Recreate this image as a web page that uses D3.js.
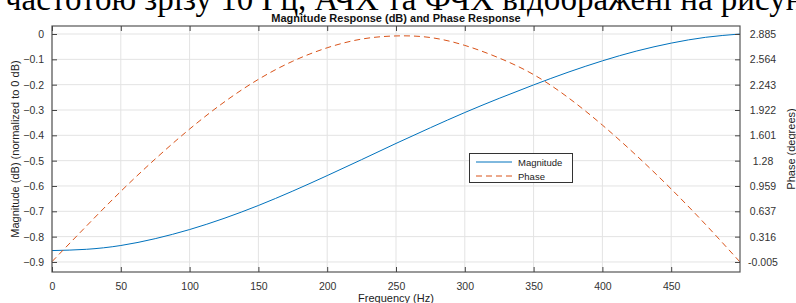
<!DOCTYPE html>
<html><head><meta charset="utf-8">
<script src="https://cdn.jsdelivr.net/npm/d3@7"></script>
<style>
html,body{margin:0;padding:0;background:#fff;}
svg{display:block;}
text{font-family:"Liberation Sans",Arial,sans-serif;}
</style></head>
<body>
<svg id="c" width="796" height="303"></svg>
<script>
const frequency = [0,25,50,75,100,125,150,175,200,225,250,275,300,325,350,375,400,425,450,475,500];
const magnitudeDb = [-0.855,-0.850,-0.835,-0.808,-0.772,-0.728,-0.677,-0.620,-0.559,-0.496,-0.432,-0.370,-0.310,-0.254,-0.201,-0.151,-0.106,-0.067,-0.036,-0.013,0.0];
const phaseDeg = [0.0,0.45,0.89,1.30,1.68,2.02,2.31,2.54,2.71,2.82,2.86,2.84,2.74,2.58,2.37,2.08,1.73,1.34,0.92,0.47,-0.005];
const xTicks = [0,50,100,150,200,250,300,350,400,450];
const leftTicks = [0,-0.1,-0.2,-0.3,-0.4,-0.5,-0.6,-0.7,-0.8,-0.9];
const rightTickLabels = ["2.885","2.564","2.243","1.922","1.601","1.28","0.959","0.637","0.316","-0.005"];
const titleText = "Magnitude Response (dB) and Phase Response";
const headerText = "частотою зрізу 10 Гц, АЧХ та ФЧХ відображені на рисунку";

const svg = d3.select("#c");
const L = 52, R = 740, T = 26, B = 272;

const x = d3.scaleLinear().domain([0,500]).range([L,R]);
const yL = d3.scaleLinear().domain([-0.9396,0.0316]).range([B,T]);
const yR = d3.scaleLinear().domain([-0.1318,2.986]).range([B,T]);

// header text (document, cut at the top edge)
svg.append("text").attr("x",5).attr("y",9.5)
  .style("font-family","'Liberation Serif','Times New Roman',serif")
  .style("font-size","33px").attr("fill","#000").text(headerText);

// grid
const g = svg.append("g");
g.selectAll(".gx").data(xTicks).enter().append("line")
  .attr("x1",d=>x(d)).attr("x2",d=>x(d)).attr("y1",T).attr("y2",B)
  .attr("stroke","#e3e3e3").attr("stroke-width",1);
g.selectAll(".gy").data(leftTicks).enter().append("line")
  .attr("x1",L).attr("x2",R).attr("y1",d=>yL(d)).attr("y2",d=>yL(d))
  .attr("stroke","#e3e3e3").attr("stroke-width",1);

// lines
const magLine = d3.line().x((d,i)=>x(frequency[i])).y(d=>yL(d)).curve(d3.curveNatural);
const phLine = d3.line().x((d,i)=>x(frequency[i])).y(d=>yR(d)).curve(d3.curveNatural);
svg.append("path").attr("d",magLine(magnitudeDb)).attr("fill","none")
  .attr("stroke","#0072BD").attr("stroke-width",1);
svg.append("path").attr("d",phLine(phaseDeg)).attr("fill","none")
  .attr("stroke","#D95319").attr("stroke-width",1).attr("stroke-dasharray","6,4");

// box
svg.append("rect").attr("x",L).attr("y",T).attr("width",R-L).attr("height",B-T)
  .attr("fill","none").attr("stroke","#555").attr("stroke-width",1.2);

// axes
const tickCol = "#444";
const xb = svg.append("g").attr("transform",`translate(0,${B})`)
  .call(d3.axisBottom(x).tickValues(xTicks).tickSize(-5).tickPadding(11).tickFormat(d3.format("d")));
const xt = svg.append("g").attr("transform",`translate(0,${T})`)
  .call(d3.axisTop(x).tickValues(xTicks).tickSize(-5).tickFormat(""));
const yl = svg.append("g").attr("transform",`translate(${L},0)`)
  .call(d3.axisLeft(yL).tickValues(leftTicks).tickSize(-5).tickPadding(8).tickFormat(d=>d===0?"0":d3.format(".1f")(d)));
const yr = svg.append("g").attr("transform",`translate(${R},0)`)
  .call(d3.axisRight(yL).tickValues(leftTicks).tickSize(-5).tickPadding(18).tickFormat((d,i)=>rightTickLabels[i]));
[xb,xt,yl,yr].forEach(a=>{
  a.select(".domain").remove();
  a.selectAll(".tick line").attr("stroke",tickCol);
  a.selectAll(".tick text").attr("fill","#333").style("font-size","10.5px").style("font-family","'Liberation Sans',Arial,sans-serif");
});
yr.selectAll(".tick text").attr("text-anchor","middle").attr("x",23);

// title
svg.append("text").attr("x",396).attr("y",21.5).attr("text-anchor","middle")
  .style("font-size","11px").style("font-weight","bold").attr("fill","#111").text(titleText);

// axis labels
svg.append("text").attr("x",396).attr("y",301.5).attr("text-anchor","middle")
  .style("font-size","11px").attr("fill","#222").text("Frequency (Hz)");
svg.append("text").attr("transform","translate(19,149) rotate(-90)").attr("text-anchor","middle")
  .style("font-size","11px").attr("fill","#222").text("Magnitude (dB) (normalized to 0 dB)");
svg.append("text").attr("transform","translate(795,149) rotate(-90)").attr("text-anchor","middle")
  .style("font-size","11px").attr("fill","#222").text("Phase (degrees)");

// legend
const lg = svg.append("g");
lg.append("rect").attr("x",469.5).attr("y",153.5).attr("width",103).attr("height",29)
  .attr("fill","#fff").attr("stroke","#333").attr("stroke-width",1);
const legendItems = [{name:"Magnitude",color:"#0072BD",dash:null},{name:"Phase",color:"#D95319",dash:"6,4"}];
legendItems.forEach((it,i)=>{
  const yy = 162 + i*14;
  lg.append("line").attr("x1",476).attr("x2",512).attr("y1",yy).attr("y2",yy)
    .attr("stroke",it.color).attr("stroke-width",1).attr("stroke-dasharray",it.dash);
  lg.append("text").attr("x",518).attr("y",yy+3.5).style("font-size","9.5px").attr("fill","#222").text(it.name);
});
</script>
</body></html>
